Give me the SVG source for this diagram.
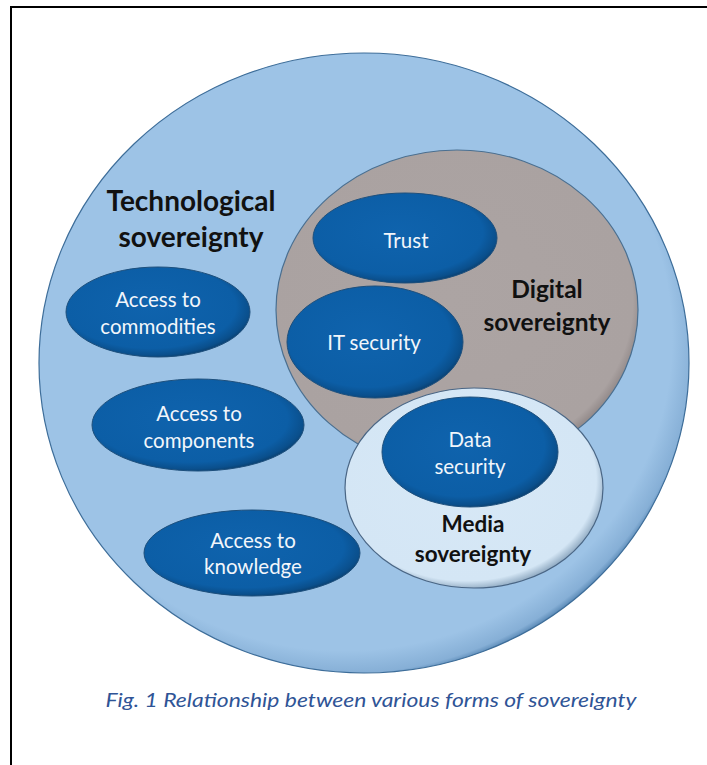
<svg xmlns="http://www.w3.org/2000/svg" width="707" height="765" viewBox="0 0 707 765">
  <defs>
    <radialGradient id="gOuter" cx="0.47" cy="0.46" r="0.56">
      <stop offset="0" stop-color="#9dc3e6"/>
      <stop offset="0.9" stop-color="#9dc3e6"/>
      <stop offset="0.965" stop-color="#86afd6"/>
      <stop offset="1" stop-color="#2f6496"/>
    </radialGradient>
    <radialGradient id="gDigital" cx="0.48" cy="0.47" r="0.55">
      <stop offset="0" stop-color="#aca4a3"/>
      <stop offset="0.92" stop-color="#aaa2a1"/>
      <stop offset="1" stop-color="#857c7c"/>
    </radialGradient>
    <radialGradient id="gMedia" cx="0.47" cy="0.46" r="0.56">
      <stop offset="0" stop-color="#d7e8f6"/>
      <stop offset="0.9" stop-color="#d4e6f5"/>
      <stop offset="1" stop-color="#7f9bb5"/>
    </radialGradient>
    <radialGradient id="gNode" cx="0.46" cy="0.44" r="0.58">
      <stop offset="0" stop-color="#0f63ad"/>
      <stop offset="0.8" stop-color="#0c5ea6"/>
      <stop offset="0.93" stop-color="#0a4f8c"/>
      <stop offset="1" stop-color="#093d6b"/>
    </radialGradient>
    <style>
      .frame { fill: none; stroke: #000; stroke-width: 2; }
      .outer { fill: url(#gOuter); stroke: #3d6d99; stroke-width: 1.2; }
      .digital { fill: url(#gDigital); stroke: #4a6f90; stroke-width: 1.2; }
      .media { fill: url(#gMedia); stroke: #4a6685; stroke-width: 1.2; }
      .node { fill: url(#gNode); stroke: #1d4f7c; stroke-width: 1; }
      .lbl { font-family: Lato, "Liberation Sans", sans-serif; font-size: 20.5px; fill: #f2f6fb; text-anchor: middle; dominant-baseline: central; }
      .title { font-family: Lato, "Liberation Sans", sans-serif; font-weight: bold; fill: #111; text-anchor: middle; dominant-baseline: central; }
      .caption { font-family: Lato, "Liberation Sans", sans-serif; font-style: italic; font-size: 19px; fill: #2f5496; text-anchor: middle; }
    </style>
  </defs>

  <rect width="707" height="765" fill="#fff"/>
  <path class="frame" d="M11 765 V7 H707"/>

  <!-- outer sphere: technological sovereignty -->
  <g id="technological">
    <ellipse class="outer" cx="364" cy="363" rx="325" ry="310"/>
    <text class="title" style="font-size:28px" x="191" y="200">Technological</text>
    <text class="title" style="font-size:28px" x="191" y="236">sovereignty</text>
  </g>

  <!-- digital sovereignty -->
  <g id="digital">
    <ellipse class="digital" cx="457" cy="310" rx="181" ry="160"/>
    <text class="title" style="font-size:24.5px" x="547" y="288">Digital</text>
    <text class="title" style="font-size:24.5px" x="547" y="321">sovereignty</text>
  </g>

  <!-- media sovereignty -->
  <g id="media">
    <ellipse class="media" cx="474" cy="488" rx="129" ry="100"/>
    <text class="title" style="font-size:22.5px" x="473" y="523">Media</text>
    <text class="title" style="font-size:22.5px" x="473" y="553">sovereignty</text>
  </g>

  <g id="trust">
    <ellipse class="node" cx="405" cy="238" rx="92" ry="45"/>
    <text class="lbl" x="406" y="240">Trust</text>
  </g>

  <g id="it-security">
    <ellipse class="node" cx="375" cy="342" rx="88" ry="56"/>
    <text class="lbl" x="374" y="342">IT security</text>
  </g>

  <g id="data-security">
    <ellipse class="node" cx="470" cy="452" rx="88" ry="55"/>
    <text class="lbl" x="470" y="439">Data</text>
    <text class="lbl" x="470" y="466">security</text>
  </g>

  <g id="commodities">
    <ellipse class="node" cx="158" cy="312" rx="92" ry="45"/>
    <text class="lbl" x="158" y="299">Access to</text>
    <text class="lbl" x="158" y="326">commodities</text>
  </g>

  <g id="components">
    <ellipse class="node" cx="198" cy="425" rx="106" ry="46"/>
    <text class="lbl" x="199" y="413">Access to</text>
    <text class="lbl" x="199" y="440">components</text>
  </g>

  <g id="knowledge">
    <ellipse class="node" cx="252" cy="553" rx="108" ry="43"/>
    <text class="lbl" x="253" y="540">Access to</text>
    <text class="lbl" x="253" y="566">knowledge</text>
  </g>

  <g id="connectors"/>

  <text class="caption" x="371" y="707" textLength="531" lengthAdjust="spacingAndGlyphs">Fig. 1 Relationship between various forms of sovereignty</text>
</svg>
